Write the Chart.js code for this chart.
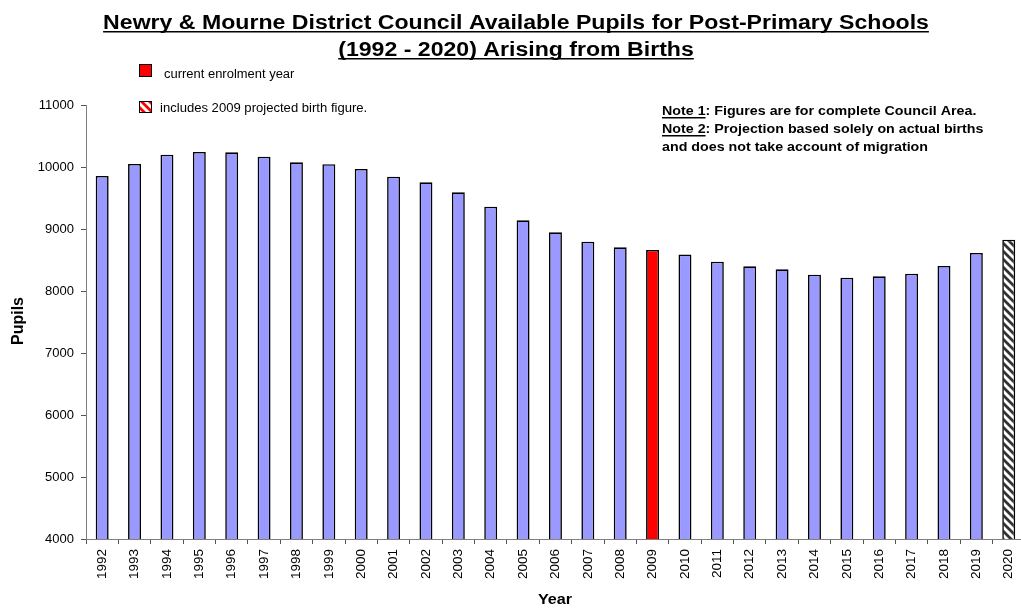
<!DOCTYPE html>
<html>
<head>
<meta charset="utf-8">
<script src="https://cdn.jsdelivr.net/npm/chart.js@4/dist/chart.umd.min.js"></script>
<style>
  html, body { margin: 0; padding: 0; background: #fff; overflow: hidden; }
  #wrap { width: 1030px; height: 609px; position: relative; }
</style>
</head>
<body>
<div id="wrap"><canvas id="chart"></canvas></div>
<script>
const years = ["1992","1993","1994","1995","1996","1997","1998","1999","2000","2001","2002","2003","2004","2005",
  "2006","2007","2008","2009","2010","2011","2012","2013","2014","2015","2016","2017","2018","2019","2020"];
const pupils = [9855, 10048, 10198, 10242, 10237, 10166, 10076, 10044, 9968, 9844, 9753, 9592, 9360, 9140,
  8946, 8795, 8705, 8661, 8588, 8473, 8398, 8350, 8263, 8215, 8237, 8279, 8403, 8613, 8827];
const currentYear = "2009";
const projectedYear = "2020";
const yTicks = [4000, 5000, 6000, 7000, 8000, 9000, 10000, 11000];

const titleLines = ["Newry & Mourne District Council Available Pupils for Post-Primary Schools",
  "(1992 - 2020) Arising from Births"];
const legendTexts = ["current enrolment year", "includes 2009 projected birth figure."];
const notes = [["Note 1", ": Figures are for complete Council Area."],
  ["Note 2", ": Projection based solely on actual births"],
  ["", "and does not take account of migration"]];
const xTitle = "Year";
const yTitle = "Pupils";

const FONT = "'Liberation Sans', Arial, sans-serif";

function hatch(fg) {
  const c = document.createElement("canvas");
  c.width = 8; c.height = 8;
  const g = c.getContext("2d");
  g.fillStyle = "#fff";
  g.fillRect(0, 0, 8, 8);
  g.strokeStyle = fg;
  g.lineWidth = 2.8;
  g.beginPath();
  for (let k = -8; k <= 16; k += 8) {
    g.moveTo(k - 2, -2);
    g.lineTo(k + 10, 10);
  }
  g.stroke();
  return g.createPattern(c, "repeat");
}

const ctx = document.getElementById("chart").getContext("2d");
const hatchDark = hatch("#333");
const hatchRed = hatch("#ff0000");

const colors = years.map(y => y === currentYear ? "#ff0000" : (y === projectedYear ? hatchDark : "#9999ff"));

// text in the original is a little wider than normal, so stretch it by sx
function wideText(c, text, x, y, align, sx, underline) {
  const w = c.measureText(text).width * sx;
  const x0 = align === "center" ? x - w / 2 : x;
  c.save();
  c.translate(x0, y);
  c.scale(sx, 1);
  c.textAlign = "left";
  c.fillText(text, 0, 0);
  c.restore();
  if (underline) c.fillRect(x0, y + 2, w, 1.5);
  return w;
}

const decor = {
  id: "decor",
  afterDraw(chart) {
    const c = chart.ctx;
    c.save();
    c.fillStyle = "#000";
    c.textBaseline = "alphabetic";
    // title
    c.font = "bold 20px " + FONT;
    wideText(c, titleLines[0], 516, 29, "center", 1.155, true);
    wideText(c, titleLines[1], 516, 56, "center", 1.155, true);
    // legend
    c.strokeStyle = "#000";
    c.lineWidth = 1;
    c.fillStyle = "#ff0000";
    c.fillRect(139, 64, 13, 13);
    c.strokeRect(139.5, 64.5, 12, 12);
    c.fillStyle = hatchRed;
    c.fillRect(139, 101, 13, 12);
    c.strokeRect(139.5, 101.5, 12, 11);
    c.fillStyle = "#000";
    c.font = "12px " + FONT;
    wideText(c, legendTexts[0], 164, 78, "left", 1.08);
    wideText(c, legendTexts[1], 160, 112, "left", 1.09);
    // notes
    c.font = "bold 12.5px " + FONT;
    notes.forEach((n, i) => {
      const y = 115 + i * 18;
      let x = 662;
      if (n[0]) x += wideText(c, n[0], x, y, "left", 1.14, true);
      wideText(c, n[1], x, y, "left", 1.14);
    });
    // axis titles
    c.font = "bold 15px " + FONT;
    wideText(c, xTitle, 555, 604, "center", 1.08);
    c.save();
    c.translate(23, 321);
    c.rotate(-Math.PI / 2);
    c.font = "bold 16px " + FONT;
    c.textAlign = "center";
    c.fillText(yTitle, 0, 0);
    c.restore();
    c.restore();
  }
};

new Chart(ctx, {
  type: "bar",
  data: {
    labels: years,
    datasets: [{
      label: "Pupils",
      data: pupils,
      backgroundColor: colors,
      borderColor: "#000",
      borderWidth: 1.6,
      barPercentage: 0.4,
      categoryPercentage: 1.0
    }]
  },
  options: {
    responsive: true,
    maintainAspectRatio: false,
    animation: false,
    layout: { padding: { top: 105, right: 4, left: 0, bottom: 0 } },
    plugins: {
      legend: { display: false },
      title: { display: false },
      tooltip: { enabled: false }
    },
    scales: {
      x: {
        offset: true,
        grid: { offset: true, drawOnChartArea: false, drawTicks: true, tickLength: 5, color: "#555" },
        border: { color: "#808080", width: 1 },
        ticks: { color: "#000", font: { family: FONT, size: 13.5 }, minRotation: 90, maxRotation: 90, padding: 5, autoSkip: false },
        afterFit(s) { s.height = 70; }
      },
      y: {
        min: 4000,
        max: 11000,
        afterBuildTicks(s) { s.ticks = yTicks.map(v => ({ value: v })); },
        grid: { drawOnChartArea: false, drawTicks: true, tickLength: 5, color: "#555" },
        border: { color: "#808080", width: 1 },
        ticks: { color: "#000", font: { family: FONT, size: 13 }, padding: 7, callback: v => String(v) },
        afterFit(s) { s.width = 86; }
      }
    }
  },
  plugins: [decor]
});
</script>
</body>
</html>
